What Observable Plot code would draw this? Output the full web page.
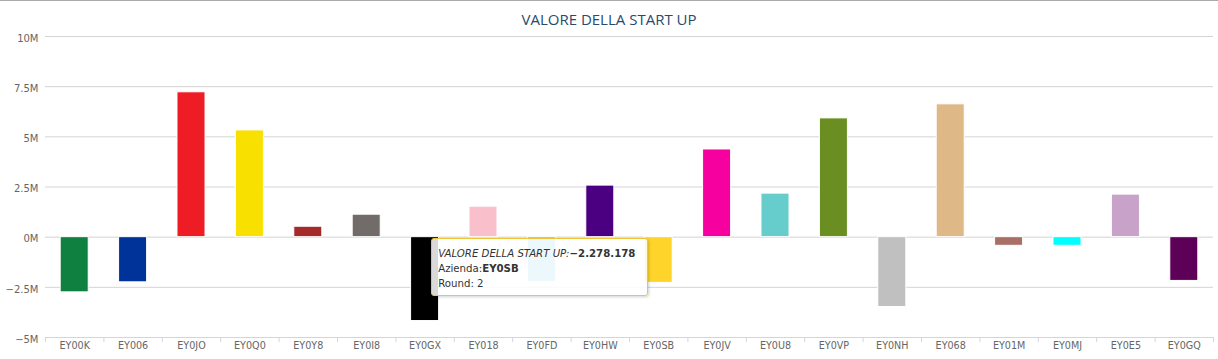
<!DOCTYPE html>
<html>
<head>
<meta charset="utf-8">
<script src="https://cdn.jsdelivr.net/npm/d3@7"></script>
<script src="https://cdn.jsdelivr.net/npm/@observablehq/plot@0.6"></script>
<style>
  html, body { margin: 0; padding: 0; background: #fff; }
  #wrap { position: relative; width: 1218px; height: 359px; border-top: 1px solid #a9a9a9; box-sizing: border-box; overflow: hidden; }
  #title { height: 26px; text-align: center; font-family: "Open Sans", "DejaVu Sans", sans-serif; font-size: 15px; color: #274b6d; line-height: 36px; }
  #tip { position: absolute; background: rgba(255,255,255,0.85); border: 1px solid #f2c43a; border-radius: 3px;
         box-shadow: 1px 1px 3px rgba(0,0,0,0.18); font-family: "DejaVu Sans", sans-serif; font-size: 10.2px; color: #333;
         padding: 7px 12px 4px 6px; line-height: 15px; white-space: nowrap; box-sizing: border-box; }
  svg { display: block; }
</style>
</head>
<body>
<div id="wrap">
  <div id="title"></div>
  <div id="chart"></div>
  <div id="tip"></div>
</div>
<script>
const seriesName = "VALORE DELLA START UP";
const categories = ["EY00K","EY006","EY0JO","EY0Q0","EY0Y8","EY0I8","EY0GX","EY018","EY0FD","EY0HW","EY0SB","EY0JV","EY0U8","EY0VP","EY0NH","EY068","EY01M","EY0MJ","EY0E5","EY0GQ"];
const values = [-2750000,-2250000,7220000,5320000,520000,1120000,-4180000,1520000,-2230000,2570000,-2278178,4370000,2170000,5920000,-3480000,6620000,-430000,-430000,2120000,-2180000];
const colors = ["#0f8040","#003399","#ee1c25","#f8e100","#a52a2a","#716c6a","#000000","#f9bfcb","#87ceeb","#4b0082","#ffd42a","#f700a0","#66cccc","#6b8e23","#c0c0c0","#deb887","#a87064","#00ffff","#c8a2c8","#5c0058"];
const yTicks = [-5000000,-2500000,0,2500000,5000000,7500000,10000000];
const yTickLabels = ["\u22125M","\u22122.5M","0M","2.5M","5M","7.5M","10M"];
const tipCompany = "EY0SB";
const tipRound = 2;

const data = categories.map((c, i) => ({name: c, value: values[i]}));

const W = 1218, H = 332, ML = 45, MR = 5;
const step = (W - ML - MR) / categories.length;

const chart = Plot.plot({
  width: W, height: H,
  marginTop: 9, marginBottom: 22, marginLeft: ML, marginRight: MR,
  style: {fontFamily: "'DejaVu Sans', sans-serif", fontSize: "9.6px", color: "#666", background: "transparent"},
  x: {domain: categories, paddingInner: 0.52, paddingOuter: 0.26, round: false, label: null},
  y: {domain: [-5000000, 10000000], label: null},
  color: {domain: categories, range: colors},
  marks: [
    Plot.ruleY(yTicks, {stroke: "#d4d4d4", strokeWidth: 1}),
    Plot.barY(data, {x: "name", y: "value", fill: "name", stroke: "#fff", strokeWidth: 1}),
    Plot.ruleY([-5000000], {stroke: "#ccd6eb"}),
    Plot.axisY({ticks: yTicks, tickFormat: d => yTickLabels[yTicks.indexOf(d)], tickSize: 0, tickPadding: 7, dy: 2, fill: "#666", fontSize: "10px", label: null}),
    Plot.axisX({tickSize: 0, tickPadding: 5, fill: "#666", label: null}),
    Plot.axisX({tickSize: 5, tickFormat: () => "", stroke: "#ccd6eb", dx: -step / 2, label: null}),
    Plot.axisX({ticks: [categories[categories.length - 1]], tickSize: 5, tickFormat: () => "", stroke: "#ccd6eb", dx: step / 2, label: null})
  ]
});
document.getElementById("chart").appendChild(chart);
document.getElementById("title").textContent = seriesName;

// tooltip for hovered point
const xs = chart.scale("x"), ys = chart.scale("y");
const tipValue = values[categories.indexOf(tipCompany)];
const fmt = v => (v < 0 ? "\u2212" : "") + Math.abs(Math.round(v)).toString().replace(/\B(?=(\d{3})+(?!\d))/g, ".");
const tip = document.getElementById("tip");
tip.innerHTML = `<span style="font-style:italic">${seriesName}:</span><b>${fmt(tipValue)}</b><br>Azienda:<b>${tipCompany}</b><br>Round: ${tipRound}`;
const svgTop = document.getElementById("chart").offsetTop;
const barLeft = xs.apply(tipCompany);
tip.style.top = (svgTop + ys.apply(0) + 1) + "px";
tip.style.left = (barLeft + 4 - tip.offsetWidth) + "px";
</script>
</body>
</html>
